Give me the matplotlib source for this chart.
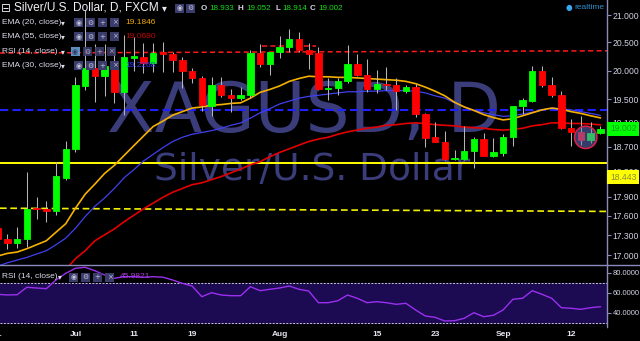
import numpy as np
import pandas as pd
import matplotlib
matplotlib.use("Agg")
import matplotlib.pyplot as plt
from matplotlib.patches import Ellipse, Rectangle
from matplotlib.lines import Line2D
from matplotlib.ticker import FixedLocator, NullLocator, FuncFormatter

plt.rcParams['font.family'] = ['Liberation Sans', 'DejaVu Sans']

# ---------------- data ----------------
dates = pd.bdate_range("2016-06-21", "2016-09-15")

opens = [17.42, 17.24, 17.19, 17.25, 17.72, 17.70, 17.68, 18.19, 18.67, 19.73,
         20.05, 19.90, 20.08, 19.63, 20.22, 20.24, 20.13, 20.32, 20.30, 20.19,
         20.00, 19.87, 19.38, 19.74, 19.58, 19.52, 19.58, 20.31, 20.12, 20.32,
         20.42, 20.57, 20.36, 20.31, 19.67, 19.69, 19.81, 20.12, 19.93, 19.67,
         19.77, 19.75, 19.65, 19.71, 19.25, 18.86, 18.79, 18.50, 18.50, 18.64,
         18.83, 18.55, 18.60, 18.86, 19.38, 19.47, 20.00, 19.75, 19.58, 19.02,
         18.95, 18.82, 18.933]
highs = [17.48, 17.32, 17.43, 18.29, 17.89, 17.83, 18.45, 18.80, 19.88, 21.09,
         20.47, 20.47, 20.40, 20.63, 20.60, 20.49, 20.49, 20.51, 20.32, 20.24,
         20.05, 19.90, 19.88, 19.88, 19.68, 19.71, 20.37, 20.48, 20.32, 20.62,
         20.75, 20.68, 20.49, 20.42, 19.87, 19.87, 20.46, 20.29, 20.20, 20.01,
         20.06, 19.87, 19.75, 19.77, 19.26, 19.11, 18.96, 18.65, 19.05, 18.86,
         18.93, 18.84, 18.92, 19.38, 19.53, 20.08, 20.08, 19.89, 19.64, 19.16,
         19.22, 19.11, 19.052]
lows = [17.20, 17.10, 17.11, 17.13, 17.56, 17.50, 17.62, 18.17, 18.62, 19.66,
        19.46, 19.55, 19.43, 19.24, 20.00, 19.95, 19.98, 19.98, 19.98, 19.69,
        19.79, 19.30, 19.21, 19.54, 19.29, 19.49, 19.52, 20.07, 19.93, 20.23,
        20.32, 20.32, 20.03, 19.66, 19.49, 19.57, 19.78, 19.90, 19.63, 19.60,
        19.66, 19.32, 19.60, 19.20, 18.70, 18.78, 18.49, 18.48, 18.49, 18.36,
        18.55, 18.53, 18.56, 18.72, 19.25, 19.45, 19.72, 19.54, 18.99, 18.71,
        18.74, 18.77, 18.914]
closes = [17.25, 17.19, 17.25, 17.71, 17.70, 17.67, 18.23, 18.67, 19.75, 20.05,
          19.90, 20.08, 19.63, 20.24, 20.25, 20.13, 20.31, 20.30, 20.19, 20.00,
          19.87, 19.40, 19.74, 19.58, 19.52, 19.58, 20.31, 20.12, 20.32, 20.42,
          20.57, 20.36, 20.29, 19.67, 19.69, 19.81, 20.12, 19.93, 19.67, 19.76,
          19.75, 19.65, 19.71, 19.25, 18.85, 18.79, 18.50, 18.52, 18.64, 18.83,
          18.55, 18.61, 18.86, 19.38, 19.49, 20.00, 19.75, 19.58, 19.02, 18.95,
          18.82, 18.93, 19.002]

ema20 = [16.99, 17.03, 17.05, 17.10, 17.16, 17.22, 17.35, 17.48, 17.72, 17.94,
         18.10, 18.27, 18.40, 18.56, 18.72, 18.88, 19.04, 19.13, 19.23, 19.29,
         19.35, 19.37, 19.40, 19.41, 19.43, 19.44, 19.52, 19.62, 19.67, 19.73,
         19.81, 19.86, 19.90, 19.89, 19.89, 19.88, 19.88, 19.87, 19.86, 19.85,
         19.84, 19.83, 19.81, 19.77, 19.71, 19.64, 19.56, 19.45, 19.37, 19.31,
         19.24, 19.19, 19.15, 19.17, 19.22, 19.27, 19.32, 19.35, 19.33, 19.29,
         19.26, 19.22, 19.1846]
ema55 = [16.60, 16.62, 16.64, 16.66, 16.69, 16.72, 16.75, 16.79, 16.95, 17.07,
         17.22, 17.31, 17.40, 17.51, 17.61, 17.71, 17.80, 17.89, 17.97, 18.03,
         18.09, 18.12, 18.17, 18.22, 18.28, 18.34, 18.41, 18.46, 18.54, 18.61,
         18.67, 18.73, 18.79, 18.83, 18.86, 18.91, 18.95, 18.98, 19.01, 19.03,
         19.06, 19.07, 19.09, 19.10, 19.09, 19.07, 19.06, 19.05, 19.03, 19.02,
         19.01, 18.99, 18.98, 18.99, 19.01, 19.05, 19.07, 19.10, 19.10, 19.09,
         19.09, 19.08, 19.0680]
ema30 = [16.84, 16.89, 16.93, 16.97, 17.02, 17.07, 17.16, 17.26, 17.41, 17.59,
         17.75, 17.88, 18.03, 18.20, 18.33, 18.47, 18.58, 18.69, 18.79, 18.86,
         18.91, 18.94, 18.97, 19.01, 19.06, 19.10, 19.18, 19.27, 19.34, 19.42,
         19.47, 19.52, 19.55, 19.57, 19.59, 19.61, 19.63, 19.63, 19.64, 19.64,
         19.65, 19.65, 19.65, 19.64, 19.61, 19.56, 19.52, 19.44, 19.37, 19.31,
         19.27, 19.24, 19.21, 19.22, 19.25, 19.28, 19.32, 19.35, 19.34, 19.32,
         19.29, 19.26, 19.2268]
rsi14 = [58.4, 57.7, 58.0, 65.4, 64.7, 64.0, 72.7, 79.4, 84.4, 85.4,
         82.0, 77.7, 74.4, 76.0, 76.0, 75.5, 76.0, 75.5, 72.7, 69.4,
         66.7, 56.0, 60.0, 57.7, 57.0, 57.0, 66.0, 62.0, 63.4, 64.7,
         66.7, 63.4, 61.7, 50.0, 50.0, 52.0, 57.7, 54.4, 50.0, 51.0,
         50.0, 48.4, 49.4, 42.7, 36.7, 35.4, 31.7, 32.0, 34.4, 40.0,
         36.0, 37.4, 42.7, 53.4, 54.4, 62.0, 58.4, 54.4, 45.0, 44.4,
         43.4, 45.0, 45.9821]

price_ticks = [21.0, 20.5, 20.0, 19.5, 19.1, 18.7, 18.3, 17.9, 17.6, 17.3, 17.0]
rsi_ticks = [80, 60, 40]
rsi_bands = [30, 70]
label_dates = ["2016-06-21", "2016-07-01", "2016-07-11", "2016-07-19", "2016-08-01",
               "2016-08-15", "2016-08-23", "2016-09-01", "2016-09-12"]
label_texts = ["21", "Jul", "11", "19", "Aug", "15", "23", "Sep", "12"]

red_trend = [20.31, 20.35]          # dashed resistance, left -> right
red_short = 20.44                   # short dashed segment
red_short_span = ["2016-07-28", "2016-08-05"]
blue_level = 19.32
support_level = 18.443
yellow_trend = [17.72, 17.67]
highlight_dates = ["2016-09-13", "2016-09-14"]
highlight_price = 18.86

# ---------------- figure ----------------
W, H = 640, 341
fig = plt.figure(figsize=(6.4, 3.41), dpi=100, facecolor='black')

def fx(x):
    return x / W

def fy(y):
    return 1 - y / H

XL = (0.237, 62.69)
ax = fig.add_axes([0, fy(265), fx(607), 265 / H])
ax2 = fig.add_axes([0, fy(327), fx(607), 62 / H])
axd = fig.add_axes([0, 0, fx(607), fy(327)])

axis_col = '#8a8abd'
lab_col = '#d2d2e4'
for a in (ax, ax2, axd):
    a.set_facecolor('black')
    a.set_xlim(*XL)
    for s in a.spines.values():
        s.set_visible(False)
    a.tick_params(axis='x', bottom=False, labelbottom=False)
for a in (ax, ax2):
    a.spines['right'].set_visible(True)
    a.spines['right'].set_color(axis_col)
    a.spines['right'].set_linewidth(1.0)
ax2.spines['bottom'].set_visible(True)
ax2.spines['bottom'].set_color(axis_col)
axd.set_yticks([])
axd.set_ylim(0, 1)

x = np.arange(len(dates))
o = np.array(opens); h = np.array(highs); l = np.array(lows); c = np.array(closes)
up = c >= o
cols = np.where(up, '#00ff00', '#ff0000')

# main pane
ax.set_yscale('log')
ax.set_ylim(16.857, 21.279)

# watermark
ax.text(0.5016, 0.502, "XAGUSD, D", transform=ax.transAxes, ha='center', va='baseline',
        fontsize=50, color='#3a3d7a', family='DejaVu Sans', zorder=0.5)
ax.text(0.514, 0.321, "Silver/U.S. Dollar", transform=ax.transAxes, ha='center', va='baseline',
        fontsize=27, color='#3a3d7a', family='DejaVu Sans', zorder=0.5)

# horizontal / trend lines
ax.plot(XL, red_trend, color='#ff1a1a', lw=1.1, ls=(0, (3.3, 2.2)), zorder=1.5)
i0 = dates.get_loc(pd.Timestamp(red_short_span[0])) + 0.2
i1 = dates.get_loc(pd.Timestamp(red_short_span[1])) - 0.2
ax.plot([i0, i1], [red_short, red_short], color='#ff1a1a', lw=1.1, ls=(0, (3.3, 2.2)), zorder=1.5)
ax.axhline(blue_level, color='#1f1fff', lw=1.5, ls=(0, (4, 2)), zorder=1.5)
ax.axhline(support_level, color='#ffff00', lw=1.4, zorder=1.5)
ax.plot(XL, yellow_trend, color='#f2f200', lw=1.2, ls=(0, (4, 2.2)), zorder=1.5)

# EMAs
ax.plot(x, ema55, color='#e40000', lw=1.2, zorder=2)
ax.plot(x, ema30, color='#4040f0', lw=0.9, zorder=2)
ax.plot(x, ema20, color='#f5b000', lw=1.2, zorder=2.1)

# candles
ax.vlines(x, l, h, color='#b4b4b4', lw=0.75, zorder=3)
ax.bar(x, np.abs(c - o), bottom=np.minimum(o, c), width=0.66, color=cols,
       edgecolor=cols, linewidth=0.6, zorder=4)

# highlight ellipse
hx = np.mean([dates.get_loc(pd.Timestamp(d)) for d in highlight_dates])
ax.add_patch(Ellipse((hx, highlight_price), 2.3, 0.37, fc=(0.42, 0.47, 0.82, 0.5),
                     ec='#e0204a', lw=1.1, zorder=5))

ax.yaxis.tick_right()
ax.yaxis.set_major_locator(FixedLocator(price_ticks))
ax.yaxis.set_minor_locator(NullLocator())
ax.yaxis.set_major_formatter(FuncFormatter(lambda v, p: f"{v:.3f}"))
ax.yaxis.set_minor_formatter(FuncFormatter(lambda v, p: ""))
ax.tick_params(axis='y', which='both', length=3, width=0.8, color=axis_col,
               labelcolor=lab_col, labelsize=6.2, pad=1.2)

# price tags
ax.annotate(f"{closes[-1]:.3f}", xy=(1, closes[-1]), xycoords=('axes fraction', 'data'),
            xytext=(2.2, 0), textcoords='offset points', ha='left', va='center',
            fontsize=6.2, color='#109a20',
            bbox=dict(boxstyle='square,pad=0.3', fc='#00ff00', ec='none'),
            annotation_clip=False, zorder=10)
ax.annotate(f"{support_level:.3f}", xy=(1, support_level), xycoords=('axes fraction', 'data'),
            xytext=(2.2, -10.3), textcoords='offset points', ha='left', va='center',
            fontsize=6.2, color='#8c8c40',
            bbox=dict(boxstyle='square,pad=0.3', fc='#ffff00', ec='none'),
            annotation_clip=False, zorder=10)

# RSI pane
ax2.set_ylim(25.7, 87.7)
ax2.axhspan(rsi_bands[0], rsi_bands[1], color='#1c0b52', zorder=0.5)
for b in rsi_bands:
    ax2.axhline(b, color='#c8c8c8', lw=0.7, ls=(0, (2, 1.5)), zorder=1)
ax2.plot(x, rsi14, color='#9b2ff0', lw=1.0, zorder=2)
ax2.yaxis.tick_right()
ax2.yaxis.set_major_locator(FixedLocator(rsi_ticks))
ax2.yaxis.set_major_formatter(FuncFormatter(lambda v, p: f"{v:.4f}"))
ax2.tick_params(axis='y', length=3, width=0.8, color=axis_col,
                labelcolor=lab_col, labelsize=5.5, pad=1.0)

# date labels
for d, t in zip(label_dates, label_texts):
    axd.text(dates.get_loc(pd.Timestamp(d)), 0.5, t, ha='center', va='center',
             fontsize=6, fontweight='bold', color='#e6e6f0', clip_on=True)

# separators
fig.add_artist(Line2D([0, 1], [fy(265), fy(265)], color=axis_col, lw=1.0))

# ---------------- overlay legend ----------------
def icons(x0, yc, glyphs, highlight=False, step=12, size=9, alpha=1.0):
    for k, g in enumerate(glyphs):
        xx = x0 + k * step
        fc = '#6fa8dc' if (highlight and k == 0) else '#3a3d6c'
        fig.add_artist(Rectangle((fx(xx), fy(yc + size / 2)), size / W, size / H,
                                 transform=fig.transFigure, fc=fc, ec='none', alpha=alpha))
        fig.text(fx(xx + size / 2), fy(yc), g, ha='center', va='center', fontsize=5,
                 color='#1a2a60' if (highlight and k == 0) else '#c4c4dc',
                 family='DejaVu Sans', alpha=alpha)

fig.text(fx(0.5), fy(8), "\u229f", ha='left', va='center', fontsize=8.5, color='#e8e8f0',
         family='DejaVu Sans')
fig.text(fx(14), fy(8), "Silver/U.S. Dollar, D, FXCM", ha='left', va='center',
         fontsize=8.6, color='#f0f0f6')
fig.text(fx(162), fy(8), "\u25be", ha='left', va='center', fontsize=7, color='#e8e8f0',
         family='DejaVu Sans')
icons(175, 8, ["\u25c9", "\u2699"], step=11)

ohlc_vals = [opens[-1], highs[-1], lows[-1], closes[-1]]
ohlc_x = [(201, 209), (238, 246), (275, 282), (310, 318)]
for (lx, vx), key, val in zip(ohlc_x, "OHLC", ohlc_vals):
    fig.text(fx(lx), fy(8), key, ha='left', va='center', fontsize=5.8, color='#d8d8e8',
             fontweight='bold')
    fig.text(fx(vx), fy(8), f"{val:.3f}", ha='left', va='center', fontsize=5.8,
             color='#18e018')

rows = [("EMA (20, close)", f"{ema20[-1]:.4f}", '#f0a800', 22.7),
        ("EMA (55, close)", f"{ema55[-1]:.4f}", '#c00000', 36.7),
        ("RSI (14, close)", None, None, 51.7),
        ("EMA (30, close)", f"{ema30[-1]:.4f}", '#3b3bff', 65.7)]
for name, val, col, yc in rows:
    fig.text(fx(1.5), fy(yc), name, ha='left', va='center', fontsize=6, color='#dcdcec')
    fig.text(fx(61), fy(yc), "\u25be", ha='left', va='center', fontsize=5.5,
             color='#dcdcec', family='DejaVu Sans')
    if val is None:
        icons(70.5, yc, ["\u25c9", "\u2699", "+", "\u00d7"], highlight=True, step=12,
              alpha=0.85)
    else:
        icons(74, yc, ["\u25c9", "\u2699", "+", "\u00d7"], step=12)
        fig.text(fx(125), fy(yc), val, ha='left', va='center', fontsize=6, color=col)

# RSI legend
fig.text(fx(1.5), fy(277), "RSI (14, close)", ha='left', va='center', fontsize=6,
         color='#dcdcec')
fig.text(fx(58), fy(277), "\u25be", ha='left', va='center', fontsize=5.5, color='#dcdcec',
         family='DejaVu Sans')
icons(69, 277, ["\u25c9", "\u2699", "+", "\u00d7"], step=12)
fig.text(fx(120), fy(277), f"{rsi14[-1]:.4f}", ha='left', va='center', fontsize=6,
         color='#a83ee0')

# realtime marker
fig.text(fx(566), fy(7.5), "\u25cf", ha='left', va='center', fontsize=5.5,
         color='#3aa8ee', family='DejaVu Sans')
fig.text(fx(574), fy(7.5), "realtime", ha='left', va='center', fontsize=6,
         color='#2f8fd0')

fig.savefig("out.png", dpi=100, facecolor='black')
